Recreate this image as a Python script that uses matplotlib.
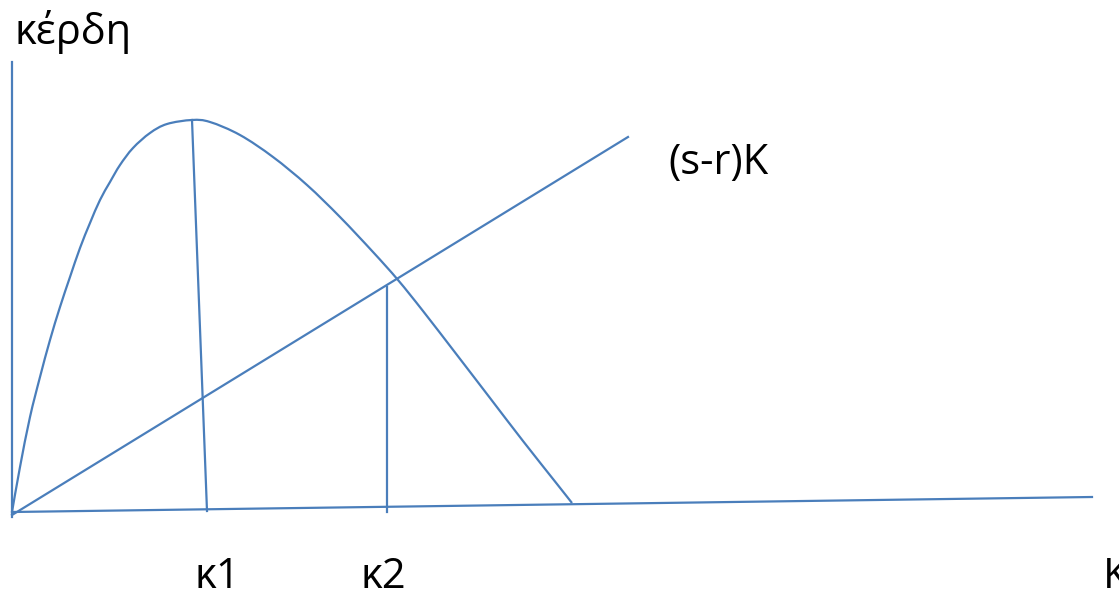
import matplotlib
matplotlib.use("Agg")
import matplotlib.pyplot as plt
from matplotlib.path import Path
from matplotlib.patches import PathPatch

# Diagram data (pixel-space coordinates of the sketch, y downward)
axis_y_x = [12, 12]
axis_y_y = [62, 517]
axis_x_x = [12, 1092]
axis_x_y = [512, 497]

curve_x = [12, 20, 30, 40, 50, 60, 70, 80, 90, 100, 110, 120, 133, 150, 167, 192,
           210, 240, 273, 307, 340, 373, 398, 423, 457, 490, 523, 557, 572]
curve_y = [512, 467, 417, 377, 340, 307, 277, 248, 223, 200, 182, 165, 148, 133, 124, 120,
           122, 135, 157, 185, 217, 252, 280, 311, 355, 398, 441, 484, 503]

cost_x = [12, 628]
cost_y = [515, 137]

k1_x = [192, 207]
k1_y = [120, 511]
k2_x = [387, 387]
k2_y = [287, 512]

labels = ["κέρδη", "(s-r)K", "κ1", "κ2", "K"]
label_x = [15, 668, 194, 360, 1103]
label_y = [44, 174, 588, 588, 588]

color = "#4A7EBB"

fig = plt.figure(figsize=(11.19, 5.91), dpi=100)
ax = fig.add_axes([0, 0, 1, 1])
ax.set_xlim(0, 1119)
ax.set_ylim(591, 0)
ax.axis("off")

lw = 1.6
ax.plot(axis_y_x, axis_y_y, color=color, lw=lw)
ax.plot(axis_x_x, axis_x_y, color=color, lw=lw)
ax.plot(cost_x, cost_y, color=color, lw=lw)
ax.plot(k1_x, k1_y, color=color, lw=lw)
ax.plot(k2_x, k2_y, color=color, lw=lw)

# Smooth rendering of the read curve points (Catmull-Rom as cubic Bezier)
pts = list(zip(curve_x, curve_y))
verts = [pts[0]]
codes = [Path.MOVETO]
n = len(pts)
for i in range(n - 1):
    p0 = pts[i - 1] if i > 0 else pts[i]
    p1 = pts[i]
    p2 = pts[i + 1]
    p3 = pts[i + 2] if i + 2 < n else pts[i + 1]
    c1 = (p1[0] + (p2[0] - p0[0]) / 6.0, p1[1] + (p2[1] - p0[1]) / 6.0)
    c2 = (p2[0] - (p3[0] - p1[0]) / 6.0, p2[1] - (p3[1] - p1[1]) / 6.0)
    verts += [c1, c2, p2]
    codes += [Path.CURVE4] * 3
ax.add_patch(PathPatch(Path(verts, codes), facecolor="none", edgecolor=color, lw=lw))

for t, x, y in zip(labels, label_x, label_y):
    ax.text(x, y, t, fontsize=30, family=["Open Sans", "DejaVu Sans"],
            ha="left", va="baseline", color="black")

fig.savefig("out.png", dpi=100)
